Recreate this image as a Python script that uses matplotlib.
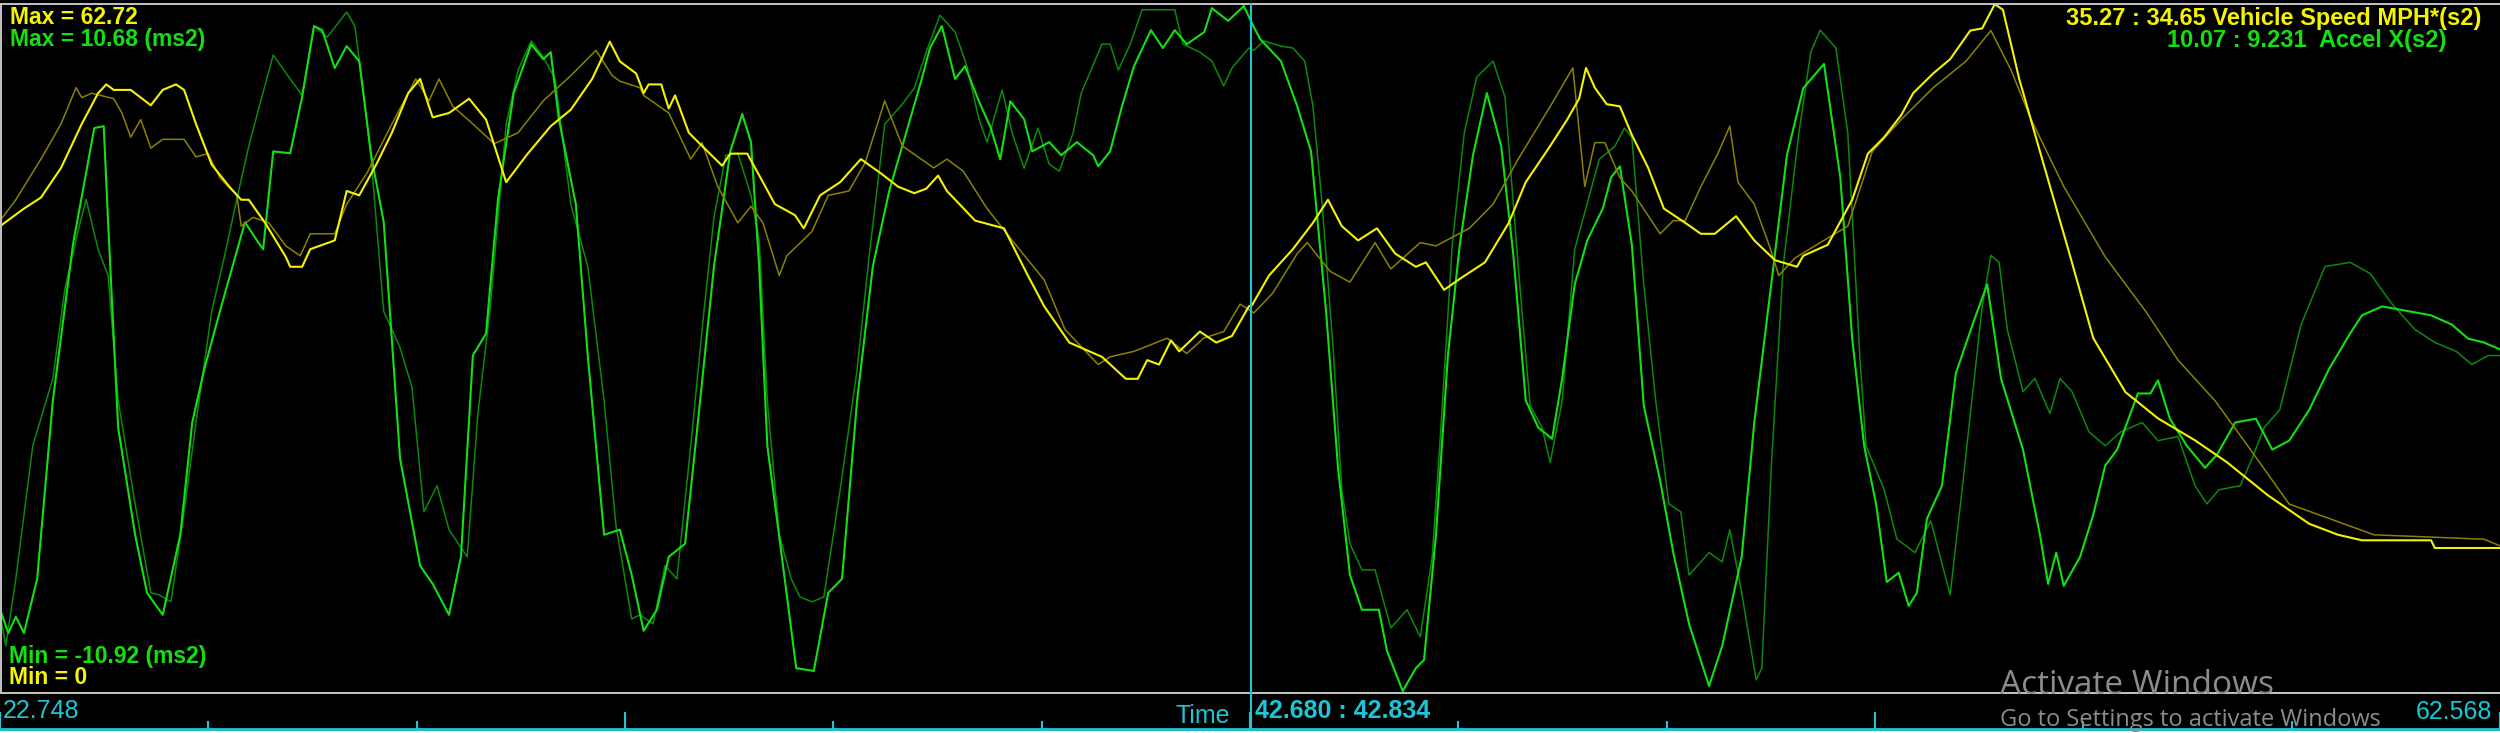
import matplotlib
matplotlib.use("Agg")
import matplotlib.pyplot as plt
from matplotlib import font_manager
from matplotlib.lines import Line2D
import numpy as np

# time window and cursor (s)
t_start = 22.748
t_end = 62.568
t_cursor = 42.680
t_cursor_ref = 42.834

# channel ranges
spd_min, spd_max = 0, 62.72
acc_min, acc_max = -10.92, 10.68

# cursor readouts
spd_cur, spd_cur_ref = 35.27, 34.65
acc_cur, acc_cur_ref = 10.07, 9.231

# Vehicle Speed MPH, current lap (time s, mph)
speed_pts = [
    (22.75, 42.5), (23.13, 44.1), (23.40, 45.1), (23.72, 47.8), (24.05, 51.8), (24.31, 54.6),
    (24.44, 55.4), (24.56, 54.9), (24.83, 54.9), (25.15, 53.5), (25.34, 54.9), (25.55, 55.4),
    (25.68, 54.9), (25.87, 51.8), (26.12, 48.1), (26.40, 46.1), (26.59, 44.9), (26.71, 44.9),
    (26.97, 42.8), (27.30, 39.7), (27.37, 38.8), (27.56, 38.8), (27.69, 40.4), (28.08, 41.2),
    (28.27, 45.7), (28.47, 45.3), (28.74, 48.1), (28.99, 51.0), (29.25, 54.6), (29.44, 55.9),
    (29.58, 53.4), (29.64, 52.4), (29.90, 52.8), (30.22, 54.1), (30.49, 52.2), (30.81, 46.5),
    (31.14, 49.0), (31.52, 51.6), (31.84, 53.1), (32.18, 55.9), (32.46, 59.3), (32.62, 57.5),
    (32.88, 56.4), (33.00, 54.6), (33.08, 55.4), (33.28, 55.4), (33.40, 53.2), (33.50, 54.4),
    (33.72, 51.0), (33.93, 49.8), (34.25, 48.0), (34.38, 49.1), (34.65, 49.1), (34.90, 46.5),
    (35.09, 44.5), (35.41, 43.5), (35.55, 42.3), (35.81, 45.3), (36.13, 46.5), (36.46, 48.6),
    (36.78, 47.3), (37.05, 46.1), (37.31, 45.5), (37.50, 45.9), (37.69, 47.1), (37.83, 45.7),
    (38.28, 43.0), (38.74, 42.3), (39.12, 38.0), (39.38, 35.2), (39.78, 31.9), (40.30, 30.6),
    (40.68, 28.6), (40.87, 28.6), (41.02, 30.3), (41.21, 29.9), (41.40, 32.1), (41.53, 31.1),
    (41.86, 32.9), (42.12, 31.9), (42.37, 32.5), (42.64, 35.2), (42.69, 35.3), (42.96, 38.0),
    (43.34, 40.4), (43.66, 42.8), (43.90, 44.9), (44.12, 42.5), (44.38, 41.2), (44.68, 42.3),
    (44.97, 40.0), (45.30, 38.8), (45.46, 39.2), (45.75, 36.7), (46.00, 37.7), (46.40, 39.2),
    (46.78, 42.8), (47.05, 46.5), (47.44, 49.8), (47.71, 52.2), (47.90, 54.1), (48.01, 56.9),
    (48.15, 55.1), (48.34, 53.6), (48.55, 53.4), (48.74, 50.8), (49.00, 47.8), (49.25, 44.1),
    (49.59, 42.8), (49.84, 41.8), (50.06, 41.8), (50.40, 43.4), (50.69, 41.2), (51.02, 39.4),
    (51.37, 38.8), (51.47, 39.8), (51.86, 40.8), (52.25, 44.9), (52.50, 49.1), (52.76, 50.6),
    (53.03, 52.6), (53.22, 54.6), (53.54, 56.4), (53.81, 57.7), (54.13, 60.3), (54.32, 60.5),
    (54.52, 62.7), (54.65, 62.2), (54.91, 55.9), (55.24, 49.3), (55.69, 40.4), (56.09, 32.3),
    (56.60, 27.4), (57.12, 25.0), (57.71, 23.0), (58.22, 21.0), (58.87, 18.0), (59.53, 15.4),
    (59.99, 14.4), (60.37, 13.9), (61.47, 13.9), (61.53, 13.2), (62.57, 13.2),
]

# Vehicle Speed MPH, reference lap
speed_ref_pts = [
    (22.75, 43.0), (23.00, 44.9), (23.40, 48.6), (23.72, 51.8), (23.96, 55.1), (24.05, 54.2),
    (24.21, 54.6), (24.56, 54.1), (24.69, 52.8), (24.83, 50.6), (24.99, 52.2), (25.15, 49.6),
    (25.34, 50.4), (25.68, 50.4), (25.87, 48.8), (26.06, 49.1), (26.25, 46.9), (26.52, 45.3),
    (26.59, 42.5), (26.78, 43.3), (27.03, 42.8), (27.30, 40.7), (27.53, 39.8), (27.69, 41.8),
    (28.08, 41.8), (28.27, 44.5), (28.59, 47.3), (28.99, 51.8), (29.37, 55.9), (29.58, 53.9),
    (29.74, 55.9), (29.96, 53.4), (30.28, 51.8), (30.62, 50.0), (31.00, 51.0), (31.40, 53.9),
    (31.84, 56.2), (32.24, 58.5), (32.50, 56.2), (32.62, 55.7), (32.94, 55.1), (33.00, 54.4),
    (33.40, 52.8), (33.75, 48.6), (33.93, 50.1), (34.18, 46.1), (34.50, 42.8), (34.71, 44.3),
    (34.90, 42.8), (35.16, 38.0), (35.28, 39.8), (35.68, 42.0), (35.94, 45.3), (36.27, 45.7),
    (36.53, 48.3), (36.84, 53.9), (37.12, 49.8), (37.62, 47.8), (37.83, 48.6), (38.09, 47.5),
    (38.47, 44.1), (38.87, 41.2), (39.38, 37.6), (39.71, 33.1), (40.24, 29.9), (40.43, 30.6),
    (40.81, 31.1), (41.34, 32.3), (41.65, 30.9), (41.92, 32.3), (42.24, 32.9), (42.50, 35.4),
    (42.72, 34.6), (43.02, 36.4), (43.41, 40.0), (43.57, 41.0), (43.93, 38.4), (44.25, 37.4),
    (44.65, 41.0), (44.90, 38.6), (45.37, 41.0), (45.62, 40.7), (46.15, 42.3), (46.53, 44.5),
    (46.93, 48.6), (47.44, 53.4), (47.80, 56.9), (47.99, 46.1), (48.15, 50.1), (48.31, 50.1),
    (48.55, 46.9), (48.74, 45.7), (49.19, 41.8), (49.40, 43.0), (49.59, 43.0), (49.84, 46.1),
    (50.11, 49.1), (50.30, 51.6), (50.43, 46.5), (50.69, 44.5), (50.95, 40.4), (51.08, 38.0),
    (51.34, 39.6), (51.74, 41.0), (52.18, 42.5), (52.57, 49.3), (53.03, 52.2), (53.54, 55.1),
    (54.06, 57.5), (54.46, 60.3), (54.78, 56.7), (55.10, 52.2), (55.62, 46.1), (56.28, 39.7),
    (56.93, 34.7), (57.44, 30.3), (58.03, 26.6), (58.55, 22.5), (59.21, 17.2), (59.84, 15.9),
    (60.56, 14.4), (62.31, 14.0), (62.57, 13.4),
]

# Accel X (m/s2), current lap
accel_pts = [
    (22.75, -8.31), (22.88, -9.04), (23.00, -8.53), (23.13, -9.04), (23.34, -7.34), (23.59, -1.75),
    (23.91, 3.14), (24.25, 6.79), (24.40, 6.85), (24.47, 3.84), (24.63, -2.60), (24.90, -5.96),
    (25.09, -7.78), (25.34, -8.47), (25.62, -5.96), (25.81, -2.44), (26.00, -0.78), (26.25, 1.04),
    (26.65, 3.84), (26.84, 3.27), (26.94, 2.99), (27.10, 6.06), (27.37, 6.00), (27.56, 7.76),
    (27.75, 9.99), (27.88, 9.86), (28.08, 8.67), (28.27, 9.36), (28.47, 8.89), (28.66, 5.94),
    (28.86, 3.84), (29.12, -3.57), (29.44, -6.93), (29.64, -7.50), (29.90, -8.47), (30.09, -6.65),
    (30.28, -0.34), (30.49, 0.35), (30.68, 4.56), (30.93, 7.89), (31.21, 9.42), (31.40, 8.95),
    (31.52, 9.17), (31.65, 7.07), (31.92, 4.40), (32.11, -0.34), (32.37, -5.96), (32.62, -5.80),
    (32.81, -7.22), (33.00, -8.97), (33.21, -8.31), (33.40, -6.65), (33.66, -6.24), (33.87, -2.32),
    (34.12, 2.45), (34.38, 6.06), (34.57, 7.23), (34.71, 6.35), (34.84, 2.45), (34.97, -3.17),
    (35.22, -6.93), (35.43, -10.14), (35.71, -10.23), (35.94, -7.78), (36.16, -7.34), (36.40, -1.75),
    (36.65, 2.45), (36.91, 4.81), (37.18, 6.63), (37.43, 8.33), (37.56, 9.30), (37.75, 9.99),
    (37.96, 8.33), (38.12, 8.73), (38.34, 7.63), (38.53, 6.79), (38.68, 5.81), (38.84, 7.63),
    (39.06, 7.07), (39.19, 6.06), (39.46, 6.35), (39.65, 5.94), (39.90, 6.35), (40.16, 5.94),
    (40.24, 5.59), (40.43, 6.06), (40.62, 7.48), (40.81, 8.73), (41.08, 9.86), (41.27, 9.30),
    (41.46, 9.86), (41.65, 9.42), (41.93, 9.80), (42.05, 10.55), (42.31, 10.15), (42.56, 10.62),
    (42.69, 10.07), (42.82, 9.58), (43.15, 8.89), (43.41, 7.48), (43.63, 6.06), (43.87, 1.04),
    (44.06, -3.86), (44.25, -7.22), (44.44, -8.31), (44.71, -8.31), (44.84, -9.60), (45.09, -10.86),
    (45.30, -10.14), (45.43, -9.88), (45.62, -5.96), (45.81, -0.34), (46.00, 3.14), (46.21, 5.94),
    (46.43, 7.89), (46.66, 6.22), (46.85, 2.86), (47.05, -1.75), (47.25, -2.60), (47.47, -2.95),
    (47.63, -1.06), (47.83, 1.89), (48.03, 3.27), (48.28, 4.28), (48.41, 5.25), (48.55, 5.59),
    (48.74, 3.14), (48.93, -1.91), (49.19, -4.26), (49.40, -6.52), (49.65, -8.75), (49.97, -10.70),
    (50.18, -9.44), (50.49, -6.65), (50.69, -2.44), (50.96, 1.89), (51.21, 5.94), (51.47, 8.04),
    (51.80, 8.80), (52.06, 5.25), (52.25, 0.19), (52.44, -3.17), (52.63, -4.99), (52.80, -7.44),
    (52.99, -7.15), (53.15, -8.19), (53.28, -7.78), (53.44, -5.46), (53.68, -4.42), (53.90, -0.90),
    (54.19, 0.76), (54.40, 1.89), (54.62, -1.06), (54.97, -3.29), (55.24, -5.96), (55.37, -7.50),
    (55.50, -6.52), (55.62, -7.56), (55.88, -6.65), (56.09, -5.33), (56.28, -3.79), (56.47, -3.29),
    (56.80, -1.53), (57.00, -1.53), (57.12, -1.12), (57.31, -2.32), (57.58, -3.17), (57.87, -3.86),
    (58.06, -3.45), (58.35, -2.44), (58.68, -2.32), (58.94, -3.29), (59.21, -3.01), (59.53, -2.04),
    (59.84, -0.78), (60.18, 0.35), (60.37, 0.92), (60.69, 1.20), (61.47, 0.92), (61.80, 0.63),
    (62.06, 0.19), (62.31, 0.07), (62.57, -0.15),
]

# Accel X (m/s2), reference lap
accel_ref_pts = [
    (22.75, -8.47), (22.84, -9.44), (23.00, -7.34), (23.27, -3.17), (23.59, -1.06), (23.78, 1.73),
    (23.99, 3.55), (24.12, 4.56), (24.31, 2.99), (24.47, 2.17), (24.63, -1.75), (24.90, -4.99),
    (25.15, -7.78), (25.28, -7.84), (25.47, -8.06), (25.68, -5.24), (25.87, -2.44), (26.12, 1.04),
    (26.32, 2.74), (26.52, 4.56), (26.71, 6.22), (26.90, 7.63), (27.10, 9.08), (27.37, 8.33),
    (27.56, 7.82), (27.75, 9.99), (27.96, 9.64), (28.27, 10.43), (28.40, 9.99), (28.53, 8.04),
    (28.66, 5.81), (28.86, 1.04), (29.12, -0.09), (29.31, -1.34), (29.50, -5.24), (29.71, -4.42),
    (29.90, -5.80), (30.19, -6.65), (30.36, -2.16), (30.55, 1.04), (30.81, 6.91), (31.00, 8.61),
    (31.21, 9.52), (31.40, 9.02), (31.59, 8.33), (31.84, 4.40), (32.11, 2.45), (32.37, -1.75),
    (32.56, -5.68), (32.81, -8.60), (32.94, -8.47), (33.15, -8.75), (33.34, -6.93), (33.53, -7.34),
    (33.75, -3.17), (33.96, 1.04), (34.12, 3.99), (34.31, 5.94), (34.50, 6.00), (34.71, 4.68),
    (34.84, 3.27), (34.97, -1.75), (35.16, -5.96), (35.35, -7.34), (35.49, -7.91), (35.68, -8.06),
    (35.87, -7.91), (36.13, -4.55), (36.40, -0.78), (36.59, 2.74), (36.84, 6.91), (37.12, 7.54),
    (37.31, 8.04), (37.50, 9.17), (37.72, 10.33), (37.96, 9.80), (38.15, 8.73), (38.34, 7.07),
    (38.47, 6.35), (38.71, 7.98), (38.87, 6.63), (39.06, 5.53), (39.28, 6.79), (39.46, 5.66),
    (39.62, 5.44), (39.84, 6.63), (39.97, 7.89), (40.30, 9.42), (40.43, 9.42), (40.56, 8.61),
    (40.75, 9.42), (40.94, 10.5), (41.46, 10.5), (41.59, 9.42), (41.86, 9.17), (42.05, 8.89),
    (42.24, 8.11), (42.37, 8.67), (42.64, 9.30), (42.72, 9.23), (42.88, 9.52), (43.15, 9.36),
    (43.34, 9.30), (43.53, 8.89), (43.66, 7.48), (43.80, 4.56), (43.99, -0.34), (44.12, -4.55),
    (44.25, -6.24), (44.44, -7.06), (44.65, -7.06), (44.90, -8.88), (45.16, -8.31), (45.37, -9.16),
    (45.56, -6.65), (45.68, -3.17), (45.88, 3.14), (46.07, 6.63), (46.27, 8.39), (46.53, 8.89),
    (46.72, 7.76), (46.93, 2.45), (47.12, -1.91), (47.31, -2.60), (47.44, -3.70), (47.63, -1.75),
    (47.83, 2.99), (48.22, 5.81), (48.47, 6.22), (48.62, 6.79), (48.74, 6.50), (48.93, 1.89),
    (49.12, -1.75), (49.33, -4.99), (49.52, -5.24), (49.65, -7.22), (49.84, -6.81), (49.97, -6.52),
    (50.18, -6.81), (50.30, -5.80), (50.49, -7.78), (50.72, -10.51), (50.81, -10.14), (50.96, -3.86),
    (51.15, 2.45), (51.40, 6.63), (51.59, 9.17), (51.74, 9.86), (51.99, 9.30), (52.18, 6.63),
    (52.37, -0.34), (52.47, -3.17), (52.76, -4.55), (52.96, -6.09), (53.25, -6.52), (53.50, -5.52),
    (53.81, -7.84), (54.00, -4.55), (54.32, 1.20), (54.46, 2.80), (54.59, 2.58), (54.72, 0.48),
    (54.97, -1.47), (55.16, -1.06), (55.40, -2.16), (55.56, -1.06), (55.75, -1.47), (56.02, -2.73),
    (56.28, -3.17), (56.53, -2.73), (56.87, -2.44), (57.12, -3.01), (57.44, -2.88), (57.71, -4.42),
    (57.90, -4.99), (58.09, -4.55), (58.43, -4.42), (58.62, -3.57), (58.81, -2.60), (59.06, -2.04),
    (59.40, 0.63), (59.78, 2.45), (60.18, 2.58), (60.50, 2.23), (60.83, 1.32), (61.21, 0.48),
    (61.53, 0.07), (61.87, -0.21), (62.12, -0.62), (62.38, -0.34), (62.57, -0.34),
]

YEL = "#f4f400"
YEL_DK = "#8a8200"
GRN = "#12e012"
GRN_DK = "#0b8a0b"
CYAN = "#1cc6d6"
GRAY = "#c4c4c4"

W, H = 2500, 733


def fx(px):
    return px / W


def fy(py):
    return 1 - py / H


names = {f.name for f in font_manager.fontManager.ttflist}
narrow = "Liberation Sans Narrow" if "Liberation Sans Narrow" in names else "Liberation Sans"
wide = "Liberation Sans"

fig = plt.figure(figsize=(W / 100, H / 100), dpi=100, facecolor="black")

# main trace area
ax = fig.add_axes([0, fy(693), 1, (693 - 4) / H])
ax.set_facecolor("black")
ax.set_xlim(t_start, t_end)
ax.set_ylim(acc_min, acc_max)
ax.axis("off")
ax2 = ax.twinx()
ax2.set_ylim(spd_min, spd_max)
ax2.axis("off")

t, v = zip(*accel_ref_pts)
ax.plot(t, v, color=GRN_DK, lw=1.1, clip_on=False)
t, v = zip(*accel_pts)
ax.plot(t, v, color=GRN, lw=1.5, clip_on=False)
t, v = zip(*speed_ref_pts)
ax2.plot(t, v, color=YEL_DK, lw=1.1, clip_on=False)
t, v = zip(*speed_pts)
ax2.plot(t, v, color=YEL, lw=1.5, clip_on=False)

# time strip at the bottom
axb = fig.add_axes([0, 0, 1, 40 / H])
axb.set_facecolor("black")
axb.set_xlim(t_start, t_end)
axb.set_ylim(733, 693)
axb.axis("off")
ticks = np.linspace(t_start, t_end, 13)
for i, tk in enumerate(ticks):
    h = 17 if i % 3 == 0 else 8
    axb.vlines(tk, 729 - h, 729, color=CYAN, lw=1.5, clip_on=False)
axb.axhline(729, color=CYAN, lw=2)
axb.axhspan(730.5, 733.5, color="white")

# frame lines
fig.add_artist(Line2D([0, 1], [fy(693), fy(693)], color=GRAY, lw=1.4, transform=fig.transFigure))
fig.add_artist(Line2D([0, 1], [fy(3.5), fy(3.5)], color=GRAY, lw=1.4, transform=fig.transFigure))
fig.add_artist(Line2D([fx(1.2), fx(1.2)], [fy(4), fy(693)], color=GRAY, lw=1.4, transform=fig.transFigure))

# cursor
cx = (t_cursor - t_start) / (t_end - t_start)
fig.add_artist(Line2D([cx, cx], [fy(4), fy(729)], color=CYAN, lw=1.5, transform=fig.transFigure))

# channel labels
lab = dict(fontsize=16.5, fontweight="bold", family=wide, va="top")
fig.text(fx(10), fy(6), f"Max = {spd_max:.2f}", color=YEL, **lab)
fig.text(fx(10), fy(28), f"Max = {acc_max:.2f} (ms2)", color=GRN, **lab)
fig.text(fx(9), fy(645), f"Min = {acc_min:.2f} (ms2)", color=GRN, **lab)
fig.text(fx(9), fy(666), f"Min = {spd_min}", color=YEL, **lab)

fig.text(fx(2481), fy(7), f"{spd_cur:.2f} : {spd_cur_ref:.2f} Vehicle Speed MPH*(s2)", color=YEL,
         fontsize=17, fontweight="bold", family=narrow, va="top", ha="right")
fig.text(fx(2446), fy(29), f"{acc_cur:.2f} : {acc_cur_ref:.3f}  Accel X(s2)", color=GRN,
         fontsize=17, fontweight="bold", family=narrow, va="top", ha="right")

# time labels
fig.text(fx(3), fy(699), f"{t_start:.3f}", color=CYAN, fontsize=18, family=narrow, va="top")
fig.text(fx(2492), fy(700), f"{t_end:.3f}", color=CYAN, fontsize=18, family=narrow, va="top", ha="right")
fig.text(fx(1176), fy(704), "Time", color=CYAN, fontsize=18, family=narrow, va="top")
fig.text(fx(1255), fy(699), f"{t_cursor:.3f} : {t_cursor_ref:.3f}", color=CYAN, fontsize=18,
         fontweight="bold", family=narrow, va="top")

# screen watermark
fig.text(fx(2000), fy(669), "Activate Windows", color="#8c8c8c", fontsize=24, family="Open Sans",
         va="top", zorder=10)
fig.text(fx(2000), fy(708), "Go to Settings to activate Windows", color="#8c8c8c", fontsize=17,
         family="Open Sans", va="top", zorder=10)

fig.savefig("out.png", dpi=100, facecolor="black")
